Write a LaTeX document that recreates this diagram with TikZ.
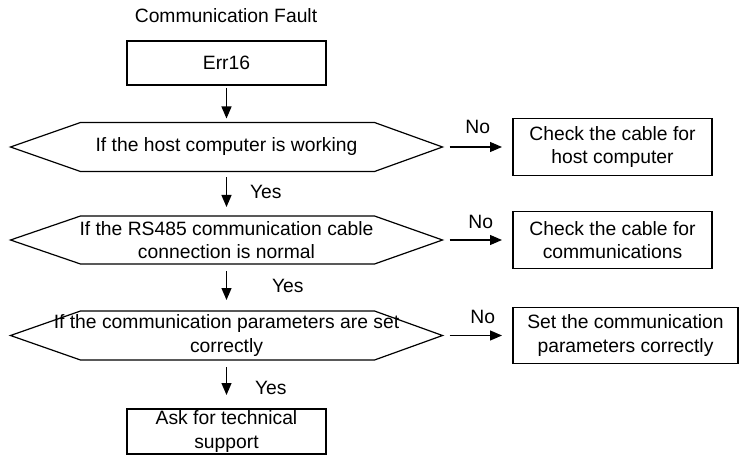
\documentclass[tikz,border=0pt]{standalone}
\usepackage{fontspec}
\setmainfont{Liberation Sans}
\usetikzlibrary{arrows.meta}
\begin{document}
\begin{tikzpicture}[x=1pt,y=-1pt,>={Triangle[length=12pt,width=10pt]},line width=1.2pt,font=\fontsize{19.3}{23.5}\selectfont]
				\tikzset{khung/.style={draw,minimum width=199pt,inner sep=0pt,outer sep=0pt,align=center},
					lucgiac/.style={minimum width=432pt,inner sep=0pt,outer sep=0pt,align=center},
					chu/.style={inner sep=0pt}}
				\useasboundingbox (0,0) rectangle (741,457);
				
				% Cột chính
				\path (226,16) node[chu] (T) {Communication Fault}
				(226.5,63) node[khung,minimum height=44pt] (E) {Err16}
				(226.5,147) node[lucgiac,minimum height=49pt] (Q1) {If the host computer is working}
				(226.5,240) node[lucgiac,minimum height=48pt] (Q2) {If the RS485 communication cable\\connection is normal}
				(226.5,335.5) node[lucgiac,minimum height=49pt] (Q3) {If the communication parameters are set\\correctly}
				(226.5,431.5) node[khung,minimum height=45pt] (S) {Ask for technical\\support}
				
				% Cột bên phải
				(612.5,147) node[khung,minimum height=57pt] (C1) {Check the cable for\\host computer}
				(612.5,240) node[khung,minimum height=57pt] (C2) {Check the cable for\\communications}
				(625.5,335.5) node[khung,minimum width=225pt,minimum height=56pt] (C3) {Set the communication\\parameters correctly};
				
				% Các hình lục giác
				\foreach \q in {Q1,Q2,Q3}
				\draw (\q.west) -- ([xshift=70pt]\q.north west) -- ([xshift=-68pt]\q.north east) -- (\q.east)
				-- ([xshift=-68pt]\q.south east) -- ([xshift=70pt]\q.south west) -- cycle;
				
				% Mũi tên dọc
				\draw[->,shorten <=3pt,shorten >=4pt] (E) -- (Q1);
				\draw[->,shorten <=6pt,shorten >=9pt] (Q1) -- (Q2) node[chu,pos=0.47,anchor=west,xshift=23pt]{Yes};
				\draw[->,shorten <=7pt,shorten >=11pt] (Q2) -- (Q3) node[chu,pos=0.47,anchor=west,xshift=45pt]{Yes};
				\draw[->,shorten <=7pt,shorten >=14pt] (Q3) -- (S) node[chu,pos=0.57,anchor=west,xshift=28pt]{Yes};
				
				% Mũi tên ngang
				\draw[->,shorten <=7pt,shorten >=11pt] (Q1.east) -- (C1.west) node[chu,pos=0.5,above=13pt,xshift=0pt]{No};
				\draw[->,shorten <=7pt,shorten >=11pt] (Q2.east) -- (C2.west) node[chu,pos=0.5,above=11pt,xshift=3pt]{No};
				\draw[->,shorten <=7pt,shorten >=11pt] (Q3.east) -- (C3.west) node[chu,pos=0.5,above=11pt,xshift=5pt]{No};
			\end{tikzpicture}
\end{document}
